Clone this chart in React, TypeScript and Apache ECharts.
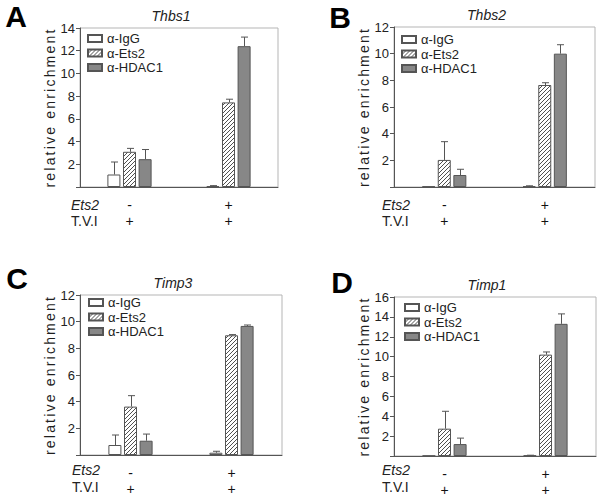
import React, { useEffect, useRef } from 'react';
import * as echarts from 'echarts';

// ---- data ----
const categories = ['Ets2 - / T.V.I +', 'Ets2 + / T.V.I +'];
const ets2Row = ['-', '+'];
const tviRow = ['+', '+'];
const antibodies = ['α-IgG', 'α-Ets2', 'α-HDAC1'];
const genes = ['Thbs1', 'Thbs2', 'Timp3', 'Timp1'];
const panelLetters = ['A', 'B', 'C', 'D'];
const yMax = [14, 12, 12, 16];

const thbs1IgG = [1.1, 0.08];
const thbs1IgGErr = [1.1, 0.04];
const thbs1Ets2 = [3.1, 7.45];
const thbs1Ets2Err = [0.3, 0.28];
const thbs1HDAC1 = [2.45, 12.4];
const thbs1HDAC1Err = [0.85, 0.8];

const thbs2IgG = [0.04, 0.06];
const thbs2IgGErr = [0, 0.03];
const thbs2Ets2 = [2.03, 7.65];
const thbs2Ets2Err = [1.37, 0.17];
const thbs2HDAC1 = [0.9, 10.0];
const thbs2HDAC1Err = [0.43, 0.67];

const timp3IgG = [0.75, 0.17];
const timp3IgGErr = [0.75, 0.11];
const timp3Ets2 = [3.63, 8.98];
const timp3Ets2Err = [0.82, 0.05];
const timp3HDAC1 = [1.07, 9.68];
const timp3HDAC1Err = [0.5, 0.07];

const timp1IgG = [0.03, 0.05];
const timp1IgGErr = [0, 0.03];
const timp1Ets2 = [2.75, 10.2];
const timp1Ets2Err = [1.75, 0.27];
const timp1HDAC1 = [1.2, 13.3];
const timp1HDAC1Err = [0.6, 1.0];

const panelValues = [
  [thbs1IgG, thbs1Ets2, thbs1HDAC1],
  [thbs2IgG, thbs2Ets2, thbs2HDAC1],
  [timp3IgG, timp3Ets2, timp3HDAC1],
  [timp1IgG, timp1Ets2, timp1HDAC1],
];
const panelErrors = [
  [thbs1IgGErr, thbs1Ets2Err, thbs1HDAC1Err],
  [thbs2IgGErr, thbs2Ets2Err, thbs2HDAC1Err],
  [timp3IgGErr, timp3Ets2Err, timp3HDAC1Err],
  [timp1IgGErr, timp1Ets2Err, timp1HDAC1Err],
];

// ---- layout ----
const grids = [
  { left: 80, top: 28, width: 198, height: 159 },
  { left: 394, top: 27, width: 201, height: 160 },
  { left: 80, top: 295, width: 202, height: 160 },
  { left: 394, top: 297, width: 202, height: 160 },
];
const legendPos = [
  { left: 87, top: 32 },
  { left: 401, top: 33 },
  { left: 88, top: 296 },
  { left: 404, top: 301 },
];
const letterPos = [
  { x: 16, y: 16 },
  { x: 340, y: 17 },
  { x: 17, y: 278 },
  { x: 342, y: 282 },
];
const rowLabelPos = [
  { x: 71, y1: 205, y2: 221 },
  { x: 382, y1: 205, y2: 221 },
  { x: 72, y1: 470, y2: 487 },
  { x: 382, y1: 470, y2: 487 },
];

const FONT = "'Liberation Sans', Arial, sans-serif";
const BAR_W = 13;
const BAR_GAP = 0.2;
const STEP = BAR_W * (1 + BAR_GAP);

function makeHatch(): HTMLCanvasElement {
  const c = document.createElement('canvas');
  c.width = 4;
  c.height = 4;
  const g = c.getContext('2d')!;
  g.fillStyle = '#ffffff';
  g.fillRect(0, 0, 4, 4);
  g.strokeStyle = '#505050';
  g.lineWidth = 1;
  const seg = (a: number, b: number, c2: number, d: number) => {
    g.beginPath();
    g.moveTo(a, b);
    g.lineTo(c2, d);
    g.stroke();
  };
  seg(-1, 5, 5, -1);
  seg(-1, 1, 1, -1);
  seg(3, 5, 5, 3);
  return c;
}

export default function App() {
  const ref = useRef<HTMLDivElement>(null);
  useEffect(() => {
    if (!ref.current) return;
    const chart = echarts.init(ref.current, undefined, { renderer: 'svg' });
    const hatch = makeHatch();
    const barStyles = [
      { color: '#ffffff', borderColor: '#555555', borderWidth: 1 },
      { color: { image: hatch, repeat: 'repeat' }, borderColor: '#555555', borderWidth: 1 },
      { color: '#878787', borderColor: '#555555', borderWidth: 1 },
    ];

    const series: any[] = [];
    panelValues.forEach((vals, p) => {
      vals.forEach((arr, a) => {
        series.push({
          type: 'bar',
          name: antibodies[a],
          xAxisIndex: p,
          yAxisIndex: p,
          data: arr,
          barWidth: BAR_W,
          barGap: BAR_GAP * 100 + '%',
          itemStyle: barStyles[a],
          emphasis: { disabled: true },
        });
      });
      const errData: number[][] = [];
      vals.forEach((arr, a) => {
        arr.forEach((v, c) => {
          errData.push([c, a, v, panelErrors[p][a][c]]);
        });
      });
      series.push({
        type: 'custom',
        name: 'err' + p,
        xAxisIndex: p,
        yAxisIndex: p,
        z: 10,
        data: errData,
        renderItem: (params: any, api: any) => {
          const c = api.value(0);
          const a = api.value(1);
          const v = api.value(2);
          const e = api.value(3);
          if (!(e > 0)) return { type: 'group', children: [] };
          const base = api.coord([c, v]);
          const top = api.coord([c, v + e]);
          const x = Math.round(base[0] + (a - 1) * STEP) + 0.5;
          const st = { stroke: '#555555', lineWidth: 1 };
          return {
            type: 'group',
            children: [
              { type: 'line', shape: { x1: x, y1: base[1], x2: x, y2: top[1] }, style: st },
              { type: 'line', shape: { x1: x - 3.5, y1: top[1], x2: x + 3.5, y2: top[1] }, style: st },
            ],
          };
        },
      });
    });

    const graphic: any[] = [];
    panelLetters.forEach((L, p) => {
      graphic.push({
        type: 'text',
        x: letterPos[p].x,
        y: letterPos[p].y,
        style: {
          text: L,
          font: `bold 30px ${FONT}`,
          fill: '#000000',
          align: 'center',
          verticalAlign: 'middle',
        },
      });
      graphic.push({
        type: 'text',
        x: rowLabelPos[p].x,
        y: rowLabelPos[p].y1,
        style: { text: 'Ets2', font: `italic 14px ${FONT}`, fill: '#222222', align: 'left', verticalAlign: 'middle' },
      });
      graphic.push({
        type: 'text',
        x: rowLabelPos[p].x,
        y: rowLabelPos[p].y2,
        style: { text: 'T.V.I', font: `14px ${FONT}`, fill: '#222222', align: 'left', verticalAlign: 'middle' },
      });
    });

    const option: any = {
      animation: false,
      backgroundColor: '#ffffff',
      textStyle: { fontFamily: FONT },
      title: genes.map((g, p) => ({
        text: g,
        left: grids[p].left + grids[p].width / 2 - 8,
        top: grids[p].top - 19,
        textAlign: 'center',
        padding: 0,
        textStyle: { fontStyle: 'italic', fontWeight: 'normal', fontSize: 14, color: '#222222', fontFamily: FONT },
      })),
      legend: legendPos.map((lp) => ({
        data: antibodies,
        orient: 'vertical',
        left: lp.left,
        top: lp.top,
        padding: 0,
        itemGap: 1.5,
        itemWidth: 14,
        itemHeight: 7,
        itemTextGap: 5,
        icon: 'rect',
        selectedMode: false,
        textStyle: { fontSize: 13, color: '#222222', fontFamily: FONT },
      })),
      grid: grids.map((g) => ({ ...g, show: true, borderColor: '#b5b5b5', borderWidth: 1, backgroundColor: 'transparent' })),
      xAxis: grids.map((g, p) => ({
        type: 'category',
        gridIndex: p,
        data: categories,
        axisTick: { show: false },
        axisLine: { lineStyle: { color: '#555555', width: 1 } },
        axisLabel: {
          formatter: (_v: string, i: number) => `${ets2Row[i]}\n${tviRow[i]}`,
          fontSize: 14,
          lineHeight: 16,
          margin: 10,
          color: '#111111',
          fontFamily: FONT,
        },
      })),
      yAxis: grids.map((g, p) => ({
        type: 'value',
        gridIndex: p,
        min: 0,
        max: yMax[p],
        interval: 2,
        name: 'relative enrichment',
        nameLocation: 'middle',
        nameGap: 23,
        nameTextStyle: { fontSize: 14, color: '#1f1f1f', fontFamily: FONT },
        axisLine: { show: true, lineStyle: { color: '#555555', width: 1 } },
        axisTick: { show: true, length: 4, lineStyle: { color: '#555555' } },
        splitLine: { show: false },
        axisLabel: {
          formatter: (v: number) => (v === 0 ? '' : String(v)),
          fontSize: 13,
          margin: 5,
          color: '#222222',
          fontFamily: FONT,
        },
      })),
      series,
      graphic,
    };
    chart.setOption(option);
    return () => chart.dispose();
  }, []);
  return (
    <>
      <style>{`text[fill="#1f1f1f"]{letter-spacing:2.2px;}`}</style>
      <div ref={ref} style={{ position: 'fixed', left: 0, top: 0, width: 600, height: 498, background: '#fff' }} />
    </>
  );
}
